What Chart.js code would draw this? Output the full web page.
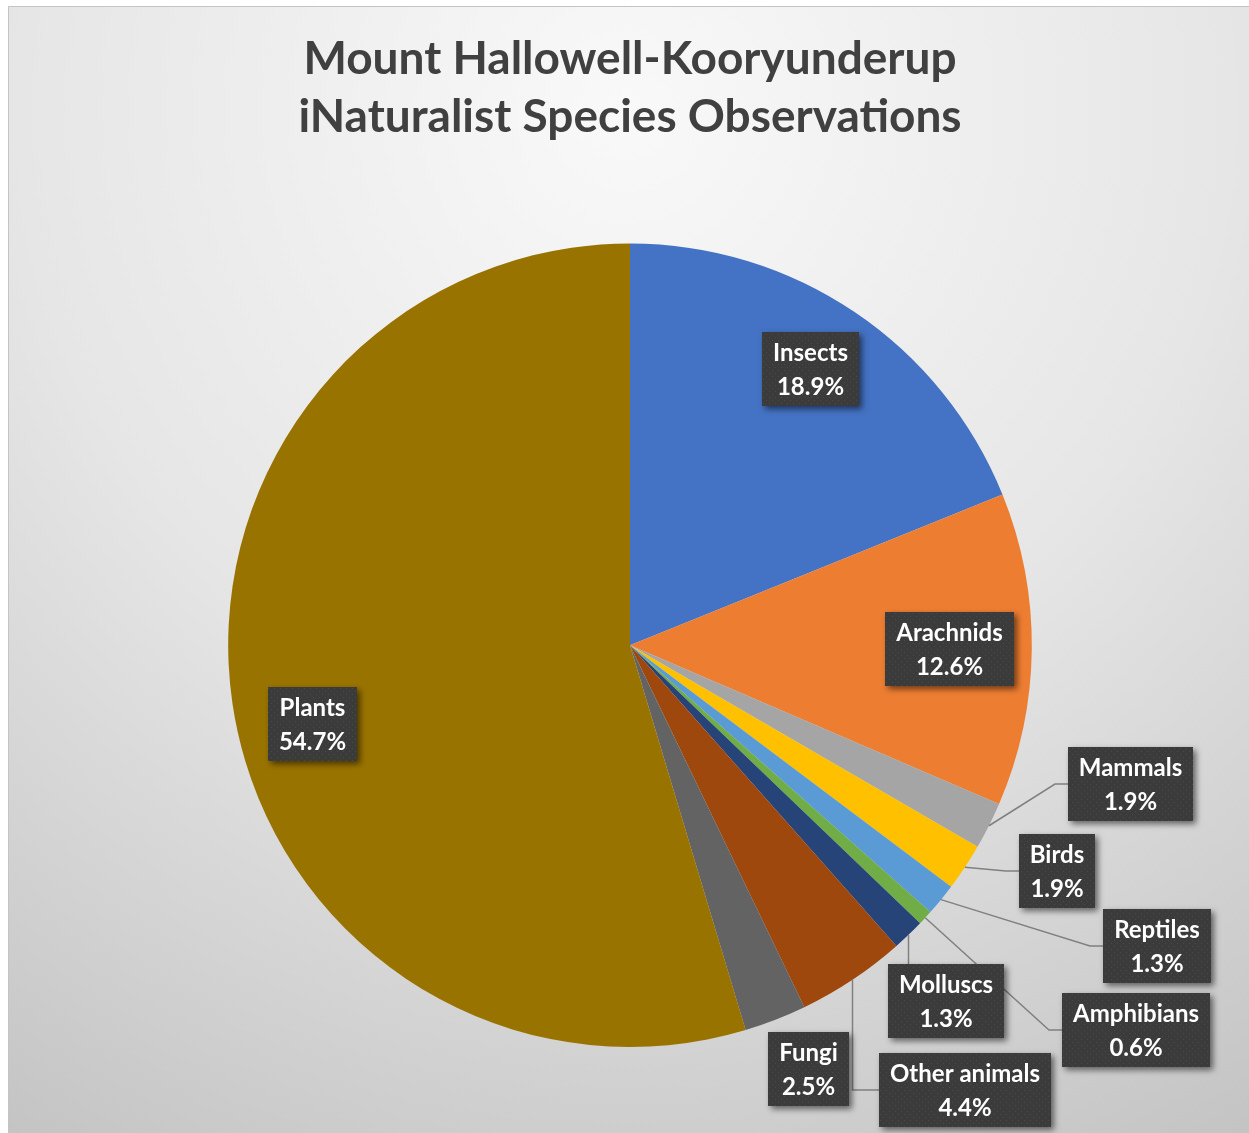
<!DOCTYPE html>
<html>
<head>
<meta charset="utf-8">
<script src="https://cdn.jsdelivr.net/npm/chart.js@4.4.0/dist/chart.umd.min.js"></script>
<style>
  html, body { margin: 0; padding: 0; background: #ffffff; }
  canvas { display: block; }
</style>
</head>
<body>
<canvas id="pieChart" width="1249" height="1133"></canvas>
<script>
var groups = ["Insects", "Arachnids", "Mammals", "Birds", "Reptiles", "Amphibians", "Molluscs", "Other animals", "Fungi", "Plants"];
var percents = [18.9, 12.6, 1.9, 1.9, 1.3, 0.6, 1.3, 4.4, 2.5, 54.7];
var sliceColors = ["#4472C4", "#ED7D31", "#A5A5A5", "#FFC000", "#5B9BD5", "#70AD47", "#264478", "#9E480E", "#636363", "#997300"];
var titleLines = ["Mount Hallowell-Kooryunderup", "iNaturalist Species Observations"];

// where each label box sits, in pie radii from the centre; leader = draw a callout line
var labelSpots = [
    { x: 0.450, y: -0.687, leader: false },
    { x: 0.796, y: 0.010, leader: false },
    { x: 1.246, y: 0.346, leader: true },
    { x: 1.062, y: 0.562, leader: true },
    { x: 1.311, y: 0.749, leader: true },
    { x: 1.259, y: 0.958, leader: true },
    { x: 0.786, y: 0.886, leader: true },
    { x: 0.833, y: 1.107, leader: true },
    { x: 0.445, y: 1.055, leader: false },
    { x: -0.789, y: 0.197, leader: false }
];

var backgroundPlugin = {
    id: "background",
    beforeDraw: function (chart) {
        var c = chart.ctx;
        var w = chart.width, h = chart.height;
        c.save();
        c.fillStyle = "#ffffff";
        c.fillRect(0, 0, w, h);
        var g = c.createRadialGradient(w / 2, 110, 0, w / 2, 110, 1210);
        g.addColorStop(0, "#f9f9f9");
        g.addColorStop(0.5, "#e6e6e6");
        g.addColorStop(1, "#c3c3c3");
        c.fillStyle = g;
        c.fillRect(8, 6, w - 8, h - 6);
        c.strokeStyle = "#c4c4c4";
        c.lineWidth = 1;
        c.beginPath();
        c.moveTo(8.5, h);
        c.lineTo(8.5, 6.5);
        c.lineTo(w, 6.5);
        c.stroke();
        c.restore();
    }
};

function dotPattern(c) {
    var p = document.createElement("canvas");
    p.width = 6;
    p.height = 6;
    var pc = p.getContext("2d");
    pc.fillStyle = "#3b3b3b";
    pc.fillRect(0, 0, 6, 6);
    pc.fillStyle = "#4a4a4a";
    pc.fillRect(1, 1, 1, 1);
    pc.fillRect(4, 4, 1, 1);
    return c.createPattern(p, "repeat");
}

var labelPlugin = {
    id: "boxLabels",
    afterDatasetsDraw: function (chart) {
        var c = chart.ctx;
        var arcs = chart.getDatasetMeta(0).data;
        if (!arcs.length) return;
        var cx = arcs[0].x, cy = arcs[0].y, r = arcs[0].outerRadius;
        var pad = 11, bh = 74;
        c.save();
        c.font = "bold 24px Lato";

        var boxes = groups.map(function (name, i) {
            var pct = percents[i].toFixed(1) + "%";
            var tw = Math.max(c.measureText(name).width, c.measureText(pct).width);
            var bw = Math.round(tw + 2 * pad);
            return {
                name: name,
                pct: pct,
                w: bw,
                x: Math.round(cx + labelSpots[i].x * r - bw / 2),
                y: Math.round(cy + labelSpots[i].y * r - bh / 2)
            };
        });

        // callout lines go under the boxes
        c.strokeStyle = "#808080";
        c.lineWidth = 1.5;
        boxes.forEach(function (b, i) {
            if (!labelSpots[i].leader) return;
            var mid = (arcs[i].startAngle + arcs[i].endAngle) / 2;
            var px = cx + Math.cos(mid) * r;
            var py = cy + Math.sin(mid) * r;
            c.beginPath();
            c.moveTo(px, py);
            if (px >= b.x && px <= b.x + b.w) {
                c.lineTo(px, b.y);
            } else {
                var my = b.y + bh / 2;
                var dx = b.x - px, dy = my - py;
                if (Math.abs(dy) > 2 * Math.abs(dx)) {
                    c.lineTo(px, my);
                } else {
                    c.lineTo(b.x - 13, my);
                }
                c.lineTo(b.x, my);
            }
            c.stroke();
        });

        var fill = dotPattern(c);
        boxes.forEach(function (b) {
            c.save();
            c.shadowColor = "rgba(0,0,0,0.55)";
            c.shadowBlur = 6;
            c.shadowOffsetX = 3;
            c.shadowOffsetY = 3;
            c.fillStyle = fill;
            c.fillRect(b.x, b.y, b.w, bh);
            c.restore();
            c.fillStyle = "#ffffff";
            c.textAlign = "center";
            c.textBaseline = "alphabetic";
            c.fillText(b.name, b.x + b.w / 2, b.y + 29);
            c.fillText(b.pct, b.x + b.w / 2, b.y + 63);
        });
        c.restore();
    }
};

var ctx = document.getElementById("pieChart").getContext("2d");
var chart = new Chart(ctx, {
    type: "pie",
    data: {
        labels: groups,
        datasets: [
            {
                data: percents,
                backgroundColor: sliceColors,
                borderWidth: 0,
                hoverOffset: 0
            }
        ]
    },
    options: {
        responsive: false,
        devicePixelRatio: 1,
        animation: false,
        layout: {
            padding: { top: 6, bottom: 86, left: 100, right: 89 }
        },
        plugins: {
            legend: { display: false },
            tooltip: { enabled: false },
            title: {
                display: true,
                text: titleLines,
                color: "#404040",
                font: { family: "Lato", size: 46, weight: "bold", lineHeight: 1.265 },
                padding: { top: 24, bottom: 97 }
            }
        }
    },
    plugins: [backgroundPlugin, labelPlugin]
});
</script>
</body>
</html>
